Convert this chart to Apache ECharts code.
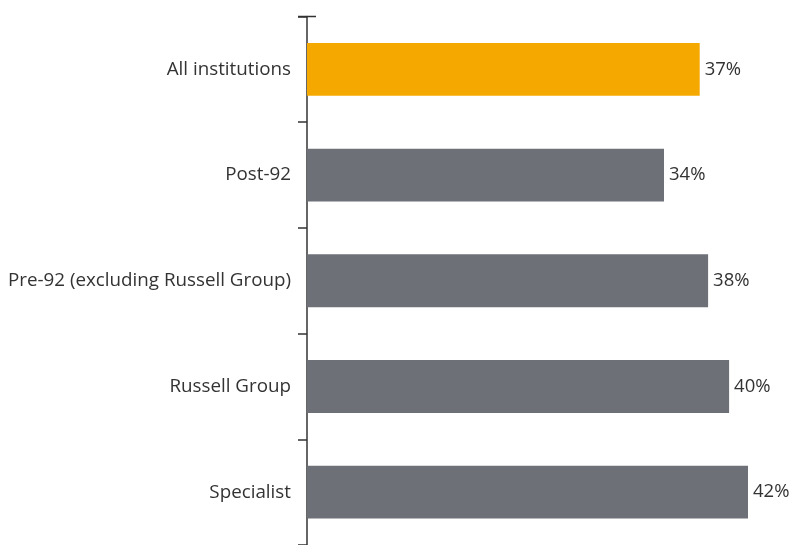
<!DOCTYPE html>
<html><head><meta charset="utf-8">
<script src="https://cdn.jsdelivr.net/npm/echarts@6/dist/echarts.min.js"></script>
<style>html,body{margin:0;padding:0;background:#fff}#c{width:799px;height:545px}</style>
</head><body><div id="c"></div>
<script>
const categories = ['All institutions','Post-92','Pre-92 (excluding Russell Group)','Russell Group','Specialist'];
const values = [37.4,34,38.2,40.2,42];
const colors = ['#F5A800','#6E7078','#6E7078','#6E7078','#6E7078'];
const chart = echarts.init(document.getElementById('c'));
const FONT = '"Open Sans", sans-serif';
chart.setOption({
  animation:false,
  grid:{left:307,top:16.5,height:530,right:19.5,containLabel:false},
  xAxis:{type:'value',min:0,max:45,show:false},
  yAxis:{type:'category',data:categories,inverse:true,
    axisLine:{lineStyle:{color:'#333',width:1.5}},
    axisTick:{show:true,length:9,lineStyle:{color:'#333',width:1.5}},
    axisLabel:{color:'#333',fontSize:18.8,fontFamily:FONT,margin:16}},
  series:[{type:'bar',barWidth:'50%',
    data:values.map((v,i)=>({value:v,itemStyle:{color:colors[i]}})),
    label:{show:true,position:'right',distance:5,formatter:p=>Math.round(p.value)+'%',color:'#333',fontSize:18.5,fontFamily:FONT}}]
});
chart.setOption({graphic:[{type:'line',shape:{x1:298,y1:16.5,x2:316,y2:16.5},style:{stroke:'#333',lineWidth:1.5}}]});
</script></body></html>
